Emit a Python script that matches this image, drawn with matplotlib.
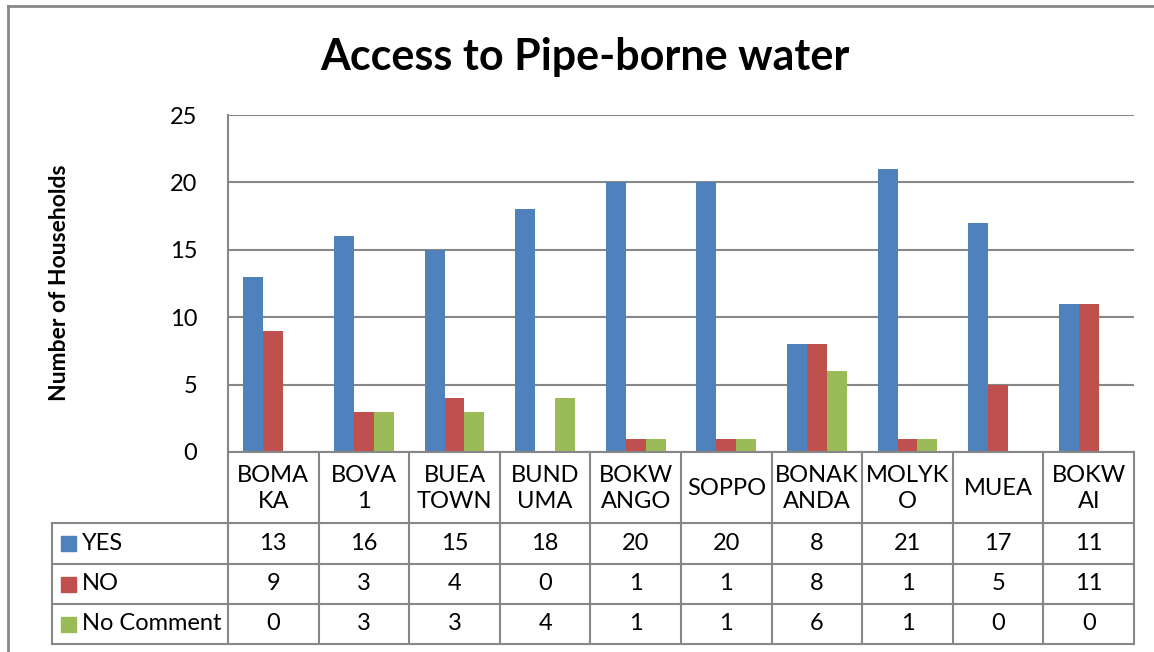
import matplotlib
matplotlib.use("Agg")
import numpy as np
import matplotlib.pyplot as plt
from matplotlib.lines import Line2D
from matplotlib.patches import Rectangle

# data
categories = ["BOMA\nKA", "BOVA\n1", "BUEA\nTOWN", "BUND\nUMA", "BOKW\nANGO",
              "SOPPO", "BONAK\nANDA", "MOLYK\nO", "MUEA", "BOKW\nAI"]
yes = [13, 16, 15, 18, 20, 20, 8, 21, 17, 11]
no = [9, 3, 4, 0, 1, 1, 8, 1, 5, 11]
no_comment = [0, 3, 3, 4, 1, 1, 6, 1, 0, 0]
series_names = ["YES", "NO", "No Comment"]
colors = ["#4F81BD", "#C0504D", "#9BBB59"]

plt.rcParams['font.family'] = ['Lato', 'DejaVu Sans']

W, H = 1154, 652
fig = plt.figure(figsize=(W / 100, H / 100), dpi=100)

def fx(px):
    return px / W

def fy(py):
    return 1 - py / H

# outer chart border
grey = "#878787"
fig.add_artist(Line2D([fx(8), fx(8)], [fy(6), fy(652)], color=grey, lw=2))
fig.add_artist(Line2D([fx(8), fx(1154)], [fy(6), fy(6)], color=grey, lw=2))

left, right, top, bottom = 228, 1134, 115, 452
ax = fig.add_axes([fx(left), fy(bottom), fx(right - left), fy(top) - fy(bottom)])

x = np.arange(len(categories))
bw = 0.22
all_series = [yes, no, no_comment]
for i, (vals, c) in enumerate(zip(all_series, colors)):
    ax.bar(x + (i - 1) * bw, vals, width=bw, color=c, zorder=3)

ax.set_xlim(-0.5, len(categories) - 0.5)
ax.set_ylim(0, 25)
ax.set_yticks([0, 5, 10, 15, 20, 25])
ax.tick_params(axis='y', length=0, labelsize=17, pad=22)
ax.tick_params(axis='x', length=0, labelbottom=False)
ax.grid(axis='y', color=grey, lw=1.5, zorder=0)
for s in ["top", "right", "bottom"]:
    ax.spines[s].set_visible(False)
ax.spines["left"].set_color(grey)
ax.spines["left"].set_linewidth(1.5)

fig.text(fx(59), fy(283), "Number of Households", fontsize=16.5, fontweight='bold',
         rotation=90, ha='center', va='center')

fig.text(fx(585), fy(57), "Access to Pipe-borne water", fontsize=31,
         fontweight='bold', ha='center', va='center')

# data table below the plot
row_lines = [452, 523, 564, 604, 644]
tab_left = 52
col_w = (right - left) / len(categories)
col_edges = [left + i * col_w for i in range(len(categories) + 1)]

for xe in col_edges:
    fig.add_artist(Line2D([fx(xe), fx(xe)], [fy(452), fy(644)], color=grey, lw=1.5))
fig.add_artist(Line2D([fx(tab_left), fx(tab_left)], [fy(523), fy(644)], color=grey, lw=1.5))
fig.add_artist(Line2D([fx(left), fx(right)], [fy(452), fy(452)], color=grey, lw=1.5))
for yl in row_lines[1:]:
    fig.add_artist(Line2D([fx(tab_left), fx(right)], [fy(yl), fy(yl)], color=grey, lw=1.5))

# header row
hy = (row_lines[0] + row_lines[1]) / 2
for i, cat in enumerate(categories):
    cx = (col_edges[i] + col_edges[i + 1]) / 2
    fig.text(fx(cx), fy(hy + 1), cat, fontsize=17, ha='center', va='center',
             linespacing=1.35)

# value rows
for r, (name, vals, c) in enumerate(zip(series_names, all_series, colors)):
    ry = (row_lines[r + 1] + row_lines[r + 2]) / 2
    fig.add_artist(Rectangle((fx(61), fy(ry + 7.5)), fx(15), fy(0) - fy(15),
                             color=c, transform=fig.transFigure))
    fig.text(fx(82), fy(ry), name, fontsize=17, ha='left', va='center')
    for i, v in enumerate(vals):
        cx = (col_edges[i] + col_edges[i + 1]) / 2
        fig.text(fx(cx), fy(ry), str(v), fontsize=17, ha='center', va='center')

fig.savefig("out.png", dpi=100)
